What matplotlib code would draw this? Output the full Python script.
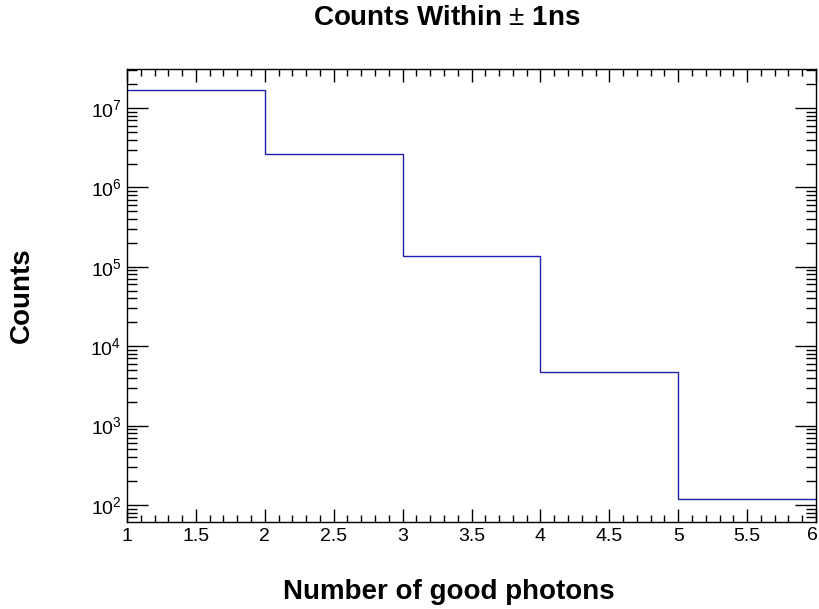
import numpy as np
import matplotlib
matplotlib.use("Agg")
import matplotlib.pyplot as plt
import matplotlib.transforms as mtransforms
from matplotlib.ticker import MultipleLocator, LogLocator, FuncFormatter

plt.rcParams['font.family'] = ['Liberation Sans', 'DejaVu Sans']
plt.rcParams['mathtext.fontset'] = 'custom'
plt.rcParams['mathtext.rm'] = 'Liberation Sans'

# histogram: bin edges and counts
bin_edges = [1, 2, 3, 4, 5, 6]
counts = [1.69e7, 2.64e6, 1.37e5, 4.73e3, 119]

title = "Counts Within $\\pm$ 1ns"
xlabel = "Number of good photons"
ylabel = "Counts"

fig = plt.figure(figsize=(8.19, 6.09), dpi=100)
ax = fig.add_axes([127/819, 1-522/609, 689/819, 453/609])

ax.stairs(counts, bin_edges, color='#1f1fb0', lw=1.0, baseline=None)

ax.set_yscale('log')
xmax = bin_edges[-1]
ax.set_xlim(bin_edges[0], xmax)
ax.set_ylim(61, 3.1e7)

ax.xaxis.set_major_locator(MultipleLocator(0.5))
ax.xaxis.set_minor_locator(MultipleLocator(0.1))
# last label is drawn by hand, right-aligned so it stays inside the canvas
ax.xaxis.set_major_formatter(FuncFormatter(lambda v, p: '' if abs(v - xmax) < 1e-9 else '%g' % v))
ax.yaxis.set_major_locator(LogLocator(base=10, numticks=20))
ax.yaxis.set_minor_locator(LogLocator(base=10, subs=np.arange(2, 10), numticks=20))

ax.tick_params(axis='both', which='both', direction='in', top=True, right=True,
               labelsize=14, width=1, color='black')
ax.tick_params(axis='x', which='major', length=9.5, pad=4)
ax.tick_params(axis='x', which='minor', length=5)
ax.tick_params(axis='y', which='major', length=15, pad=4)
ax.tick_params(axis='y', which='minor', length=7.5)
for s in ax.spines.values():
    s.set_linewidth(1.0)

trans = mtransforms.blended_transform_factory(ax.transData, ax.transAxes)
trans = trans + mtransforms.ScaledTranslation(2/100, -5.5/100, fig.dpi_scale_trans)
ax.text(xmax, 0, '%g' % xmax, transform=trans, ha='right', va='top', fontsize=14)

fig.text(447/819, 1-18/609, title, ha='center', va='center', fontsize=20, fontweight='bold')
fig.text(449/819, 1-592/609, xlabel, ha='center', va='center', fontsize=20, fontweight='bold')
fig.text(22/819, 1-295/609, ylabel, ha='center', va='center', fontsize=20, fontweight='bold', rotation=90)

fig.savefig("out.png", dpi=100)
